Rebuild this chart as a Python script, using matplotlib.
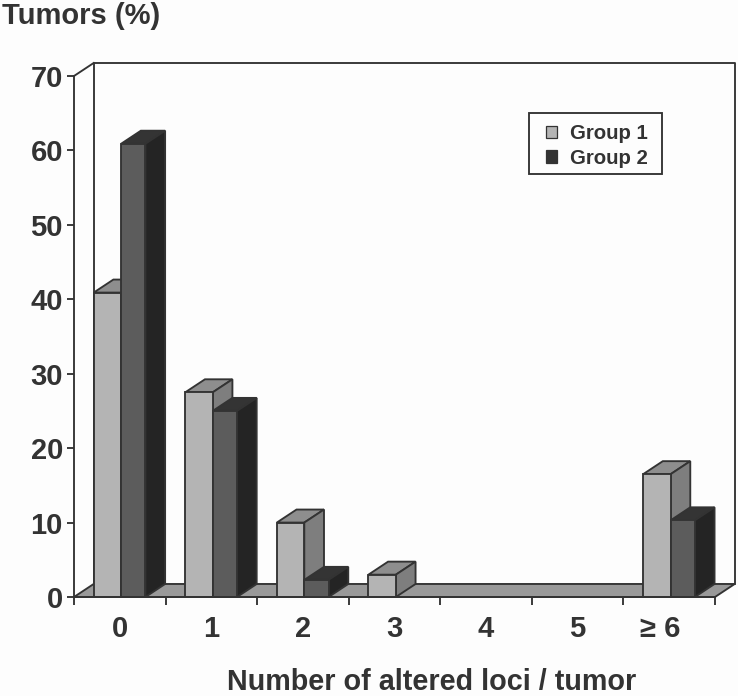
import matplotlib
matplotlib.use("Agg")
import matplotlib.pyplot as plt
from matplotlib.patches import Patch, Rectangle
from matplotlib.transforms import ScaledTranslation

plt.rcParams['font.family'] = ['Liberation Sans', 'DejaVu Sans']

categories = ['0', '1', '2', '3', '4', '5', '≥ 6']
group1 = [40.9, 27.5, 10.0, 3.0, 0, 0, 16.5]
group2 = [60.9, 25.0, 2.3, 0, 0, 0, 10.3]
y_ticks = [0, 10, 20, 30, 40, 50, 60, 70]

INK = '#333333'
W, H = 738, 696
fig = plt.figure(figsize=(W / 100, H / 100), dpi=100, facecolor='#fdfdfd')
ax = fig.add_axes([74 / W, 1 - 597 / H, (715 - 74) / W, (597 - 76) / H], facecolor='none')
ax.set_xlim(0, len(categories))
ax.set_ylim(0, 70)

DX, DY = 0.215, 1.75   # depth of the 3-D box, in data units
OFF, W1, W2 = 0.215, 0.30, 0.265
LW = 1.35
n = len(categories)

# frame behind the bars
ax.plot([DX, DX, n + DX, n + DX], [DY, 70 + DY, 70 + DY, DY], color=INK, lw=LW, clip_on=False, zorder=1)
ax.plot([0, DX], [70, 70 + DY], color=INK, lw=LW, clip_on=False, zorder=1)
ax.fill([0, n, n + DX, DX], [0, 0, DY, DY], facecolor='#999999', edgecolor=INK, lw=LW, clip_on=False, zorder=1.5)


def box(x, w, v, front, top, side, z):
    if v <= 0:
        return
    ax.fill([x, x + w, x + w + DX, x + DX], [v, v, v + DY, v + DY], facecolor=top, edgecolor=INK, lw=LW,
            clip_on=False, zorder=z)
    ax.fill([x + w, x + w + DX, x + w + DX, x + w], [0, DY, v + DY, v], facecolor=side, edgecolor=INK, lw=LW,
            clip_on=False, zorder=z)
    ax.bar(x, v, width=w, align='edge', color=front, edgecolor=INK, lw=LW, clip_on=False, zorder=z + 0.1)


for i in range(n):
    box(i + OFF, W1, group1[i], '#b4b4b4', '#8e8e8e', '#7e7e7e', 2 + i)
    box(i + OFF + W1, W2, group2[i], '#5c5c5c', '#343434', '#242424', 2.5 + i)

for s in ('top', 'right'):
    ax.spines[s].set_visible(False)
for s in ('left', 'bottom'):
    ax.spines[s].set_color(INK)
    ax.spines[s].set_linewidth(LW)
    ax.spines[s].set_zorder(20)

ax.set_yticks(y_ticks)
ax.set_yticklabels([str(v) for v in y_ticks], fontsize=21, fontweight='bold', color=INK)
ax.tick_params(axis='y', length=5, width=LW, color=INK, pad=3)
ax.set_xticks(range(n + 1))
ax.set_xticklabels([])
ax.tick_params(axis='x', which='major', length=6, width=LW, color=INK)
ax.set_xticks([i + 0.5 for i in range(n)], minor=True)
ax.set_xticklabels(categories, minor=True, fontsize=21, fontweight='bold', color=INK)
ax.tick_params(axis='x', which='minor', length=0, pad=13)
last = ax.xaxis.get_minorticklabels()[-1]
last.set_transform(last.get_transform() + ScaledTranslation(-9.5 / 100, 0, fig.dpi_scale_trans))

fig.text(2 / W, 1 - 16 / H, 'Tumors (%)', fontsize=21, fontweight='bold', color=INK, ha='left', va='center')
fig.text(432 / W, 1 - 682 / H, 'Number of altered loci / tumor', fontsize=20.7, fontweight='bold', color=INK,
         ha='center', va='center')

ax.add_patch(Rectangle((529 / W, 1 - 174 / H), (662 - 529) / W, (174 - 113) / H, transform=fig.transFigure,
                       facecolor='#fdfdfd', edgecolor=INK, lw=LW, clip_on=False, zorder=25))
handles = [Patch(facecolor='#b4b4b4', edgecolor=INK, lw=0.9, label='Group 1'),
           Patch(facecolor='#333333', edgecolor=INK, lw=0.9, label='Group 2')]
leg = ax.legend(handles=handles, loc='upper left', bbox_to_anchor=(546 / W, 1 - 124 / H),
                bbox_transform=fig.transFigure, borderaxespad=0, frameon=False,
                handlelength=0.56, handleheight=0.56, handletextpad=0.6, labelspacing=0.28, borderpad=0,
                prop={'size': 14.7, 'weight': 'bold'})
leg.set_zorder(30)
for t in leg.get_texts():
    t.set_color(INK)

fig.savefig('out.png', dpi=100, facecolor=fig.get_facecolor())
